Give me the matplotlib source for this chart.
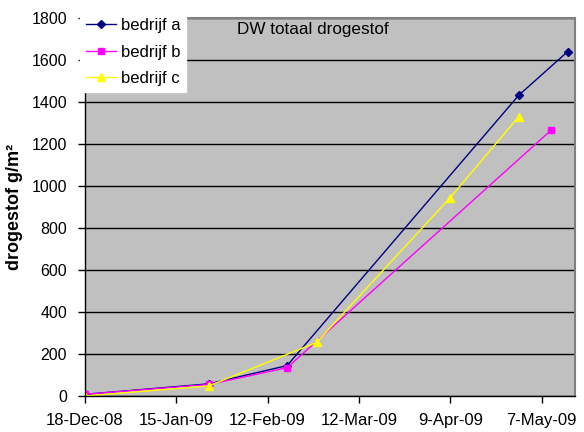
import datetime as dt
import matplotlib
matplotlib.use("Agg")
import matplotlib.pyplot as plt
import matplotlib.dates as mdates

plt.rcParams['font.family'] = ['Liberation Sans', 'DejaVu Sans']

# data
dates_a = ['2008-12-18', '2009-01-25', '2009-02-18', '2009-04-30', '2009-05-15']
vals_a = [8, 58, 145, 1432, 1640]

dates_b = ['2008-12-18', '2009-01-25', '2009-02-18', '2009-05-10']
vals_b = [8, 55, 135, 1267]

dates_c = ['2008-12-18', '2009-01-25', '2009-02-27', '2009-04-09', '2009-04-30']
vals_c = [0, 48, 255, 945, 1330]

tick_dates = ['2008-12-18', '2009-01-15', '2009-02-12', '2009-03-12', '2009-04-09', '2009-05-07']


def to_dates(lst):
    return [dt.datetime.strptime(s, '%Y-%m-%d') for s in lst]


fig = plt.figure(figsize=(5.84, 4.32), dpi=100)
ax = fig.add_axes([85 / 584, 1 - 396 / 432, (575 - 85) / 584, (396 - 18) / 432])
ax.set_facecolor('#c0c0c0')

ax.plot(to_dates(dates_a), vals_a, color='#000080', marker='D', markersize=4.5,
        lw=1, label='bedrijf a')
ax.plot(to_dates(dates_b), vals_b, color='#ff00ff', marker='s', markersize=5,
        lw=1, label='bedrijf b')
ax.plot(to_dates(dates_c), vals_c, color='#ffff00', marker='^', markersize=6,
        lw=1, label='bedrijf c')

ax.set_ylim(0, 1800)
ax.set_yticks(range(0, 1801, 200))
ax.yaxis.grid(True, color='black', lw=1)
ax.set_axisbelow(True)

ax.set_xlim(dt.datetime(2008, 12, 18), dt.datetime(2009, 5, 17, 6))
ax.set_xticks(to_dates(tick_dates))
ax.xaxis.set_major_formatter(mdates.DateFormatter('%-d-%b-%y'))

ax.tick_params(length=5, width=1, color='black', direction='out')
ax.tick_params(axis='y', labelsize=11.5, pad=8)
ax.tick_params(axis='x', labelsize=12, pad=7)

for side in ['top', 'right']:
    ax.spines[side].set_color('#808080')
    ax.spines[side].set_linewidth(1.5)
for side in ['left', 'bottom']:
    ax.spines[side].set_color('black')
    ax.spines[side].set_linewidth(1)

ax.set_ylabel('drogestof g/m²', fontsize=13, fontweight='bold', labelpad=6)

ax.text(0.465, 0.99, 'DW totaal drogestof', transform=ax.transAxes, ha='center',
        va='top', fontsize=12.3)

leg = ax.legend(loc='upper left', bbox_to_anchor=(80 / 584, 1 - 12 / 432),
                bbox_transform=fig.transFigure, fontsize=12, frameon=True,
                fancybox=False, handlelength=1.8, labelspacing=0.7,
                borderaxespad=0, borderpad=0.35, handletextpad=0.3)
leg.get_frame().set_facecolor('white')
leg.get_frame().set_edgecolor('white')
leg.get_frame().set_alpha(1)

fig.savefig('out.png', dpi=100)
